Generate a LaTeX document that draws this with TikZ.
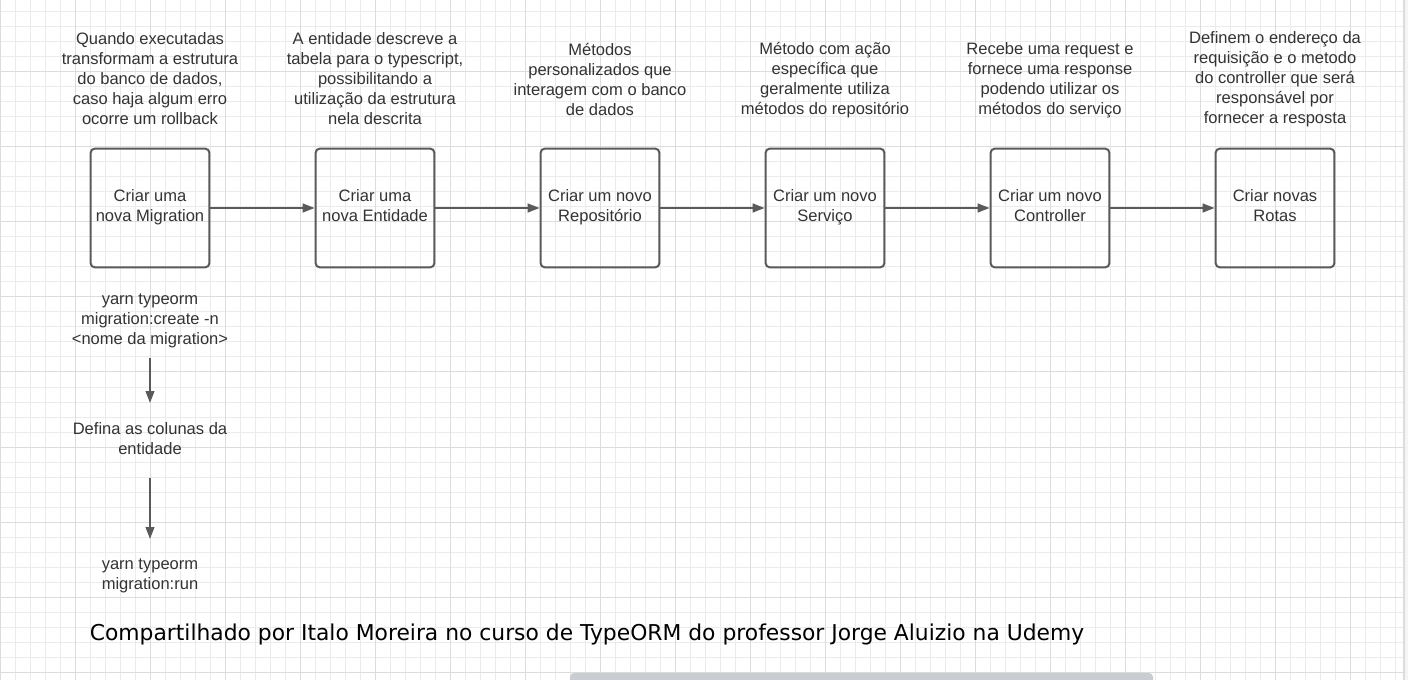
\documentclass[tikz,border=0pt]{standalone}
\usepackage{fontspec}
\setmainfont{Liberation Sans}
\newfontfamily\dejavu{DejaVu Sans}
\usetikzlibrary{arrows.meta}
\definecolor{gridminor}{HTML}{EBEBEB}
\definecolor{gridmajor}{HTML}{DCDCDC}
\definecolor{boxline}{HTML}{5A5A5A}
\definecolor{txt}{HTML}{333333}
\definecolor{scroll}{HTML}{C9CCD0}
\newcommand{\boxlbl}[1]{\raisebox{1.5pt}{\begin{tabular}{@{}c@{}}#1\end{tabular}}}
\tikzset{
  x=0.75pt, y=-0.75pt,
  stepbox/.style={draw=boxline, line width=1.5pt, rounded corners=3pt,
    minimum width=89pt, minimum height=89pt, inner sep=0pt, align=center,
    text=txt, font=\fontsize{12.4pt}{15pt}\selectfont},
  note/.style={align=center, text=txt, inner sep=0pt,
    font=\fontsize{12.4pt}{15pt}\selectfont},
  arr/.style={draw=boxline, line width=1.5pt,
    -{Triangle[length=9pt,width=6.5pt]}},
}
\begin{document}
\begin{tikzpicture}
\useasboundingbox (0,0) rectangle (1408,680);
\fill[white] (0,0) rectangle (1408,680);
% grid
\foreach \i in {0,...,94} {\draw[gridminor, line width=0.75pt] (\i*15,0) -- (\i*15,680);}
\foreach \j in {0,...,45} {\draw[gridminor, line width=0.75pt] (0,12+\j*15) -- (1408,12+\j*15);}
\foreach \i in {0,...,18} {\draw[gridmajor, line width=0.75pt] (\i*75,0) -- (\i*75,680);}
\foreach \j in {0,...,8} {\draw[gridmajor, line width=0.75pt] (0,72+\j*75) -- (1408,72+\j*75);}
% right border / scrollbar
\fill[white!96!black] (1403,0) rectangle (1408,680);
\draw[gridmajor, line width=1.5pt] (1404,0) -- (1404,680);
\fill[scroll, rounded corners=3pt] (570,673) rectangle (1153,684);

% top notes
\node[note] (n1) at (150,79) {Quando executadas\\transformam a estrutura\\do banco de dados,\\caso haja algum erro\\ocorre um rollback};
\node[note] (n2) at (375,79) {A entidade descreve a\\tabela para o typescript,\\possibilitando a\\utilização da estrutura\\nela descrita};
\node[note] (n3) at (600,79) {Métodos\\personalizados que\\interagem com o banco\\de dados};
\node[note] (n4) at (825,80) {Método com ação\\específica que\\geralmente utiliza\\métodos do repositório};
\node[note] (n5) at (1050,80) {Recebe uma request e\\fornece uma response\\podendo utilizar os\\métodos do serviço};
\node[note] (n6) at (1275,79.5) {Definem o endereço da\\requisição e o metodo\\do controller que será\\responsável por\\fornecer a resposta};

% boxes
\node[stepbox] (b1) at (150,208) {\boxlbl{Criar uma\\nova Migration}};
\node[stepbox] (b2) at (375,208) {\boxlbl{Criar uma\\nova Entidade}};
\node[stepbox] (b3) at (600,208) {\boxlbl{Criar um novo\\Repositório}};
\node[stepbox] (b4) at (825,208) {\boxlbl{Criar um novo\\Serviço}};
\node[stepbox] (b5) at (1050,208) {\boxlbl{Criar um novo\\Controller}};
\node[stepbox] (b6) at (1275,208) {\boxlbl{Criar novas\\Rotas}};

\draw[arr] (b1) -- (b2);
\draw[arr] (b2) -- (b3);
\draw[arr] (b3) -- (b4);
\draw[arr] (b4) -- (b5);
\draw[arr] (b5) -- (b6);

% migration steps
\node[note] (c1) at (150,321) {yarn typeorm\\migration:create -n\\<nome da migration>};
\node[note] (c2) at (150,439) {Defina as colunas da\\entidade};
\node[note] (c3) at (150,576) {yarn typeorm\\migration:run};
\coordinate (a1s) at (150,358);
\coordinate (a1e) at (150,403);
\coordinate (a2s) at (150,478);
\coordinate (a2e) at (150,539);
\draw[arr] (a1s) -- (a1e);
\draw[arr] (a2s) -- (a2e);

% credit
\node[inner sep=0pt, text=black, font=\dejavu\fontsize{16.37pt}{19pt}\selectfont] (credit) at (587,634) {Compartilhado por Italo Moreira no curso de TypeORM do professor Jorge Aluizio na Udemy};
\end{tikzpicture}
\end{document}
